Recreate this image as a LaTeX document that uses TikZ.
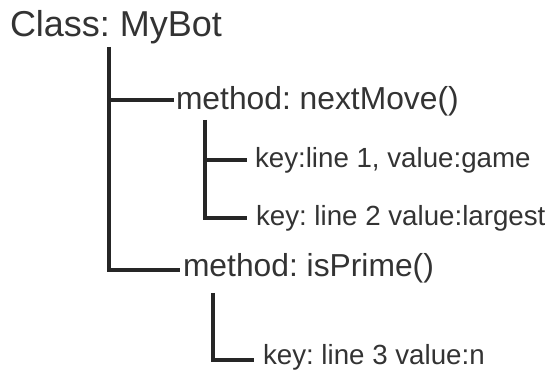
\documentclass[tikz,border=0pt]{standalone}
\usepackage{fontspec}
\setmainfont{Liberation Sans}
\frenchspacing
\definecolor{inkline}{HTML}{262626}
\definecolor{inktext}{HTML}{333333}
\tikzset{
  label/.style={anchor=base west, inner sep=0pt, outer sep=0pt, text=inktext},
  classlabel/.style={label, font=\fontsize{36pt}{36pt}\selectfont},
  methodlabel/.style={label, font=\fontsize{31.8pt}{31.8pt}\selectfont},
  keylabel/.style={label, font=\fontsize{27.7pt}{27.7pt}\selectfont},
  link/.style={draw=inkline, line width=3.2pt, line join=miter}
}
\begin{document}
\begin{tikzpicture}[x=1pt, y=1pt]
  \useasboundingbox (0,0) rectangle (550,-374);

  % labels of the tree
  \node[classlabel]  (cls) at (10,-37)  {Class: MyBot};
  \node[methodlabel] (m1)  at (176,-110) {method: nextMove()};
  \node[keylabel]    (k1)  at (255,-168) {key:line 1, value:game};
  \node[keylabel]    (k2)  at (256,-226) {key: line 2 value:largest};
  \node[methodlabel] (m2)  at (183,-277) {method: isPrime()};
  \node[keylabel]    (k3)  at (263,-365) {key: line 3 value:n};

  % tops of the vertical branches
  \coordinate (top1) at (109,-47);
  \coordinate (top2) at (205,-120);
  \coordinate (top3) at (213,-293);

  % ends of the horizontal branches, just left of each label
  \coordinate (e1) at ([shift={(-2pt,10pt)}]m1.base west);
  \coordinate (e2) at ([shift={(-8pt,8pt)}]k1.base west);
  \coordinate (e3) at ([shift={(-9pt,8pt)}]k2.base west);
  \coordinate (e4) at ([shift={(-3pt,7pt)}]m2.base west);
  \coordinate (e5) at ([shift={(-9pt,5pt)}]k3.base west);

  % class -> methods
  \draw[link] (top1) |- (e4);
  \draw[link] (top1 |- e1) -- (e1);
  % nextMove -> keys
  \draw[link] (top2) |- (e3);
  \draw[link] (top2 |- e2) -- (e2);
  % isPrime -> key
  \draw[link] (top3) |- (e5);
\end{tikzpicture}
\end{document}
